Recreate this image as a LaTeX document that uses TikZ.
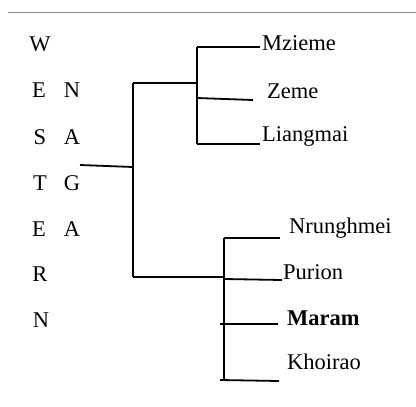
\documentclass[tikz,border=0pt]{standalone}
\usepackage{fontspec}
\setmainfont{Liberation Serif}
\begin{document}
\begin{tikzpicture}[
    x=1pt, y=-1pt,
    every node/.style={font=\fontsize{22.5}{27}\selectfont, inner sep=0pt, text height=0.68em, text depth=0pt},
    leaf/.style={anchor=west},
    branch/.style={line width=1.8pt},
]
    \useasboundingbox (0, 0) rectangle (416, 407);

    % rule across the top
    \coordinate (ruleL) at (8, 12);
    \coordinate (ruleR) at (416, 12);
    \draw[gray!90, line width=1pt] (ruleL) -- (ruleR);

    % WESTERN down the left, NAGA beside it
    \node (w) at (40, 48) {W};
    \node (e1) at (39, 94) {E};
    \node (s) at (40, 141) {S};
    \node (t) at (40, 187) {T};
    \node (e2) at (39, 233) {E};
    \node (r) at (40, 278) {R};
    \node (n1) at (41, 324) {N};

    \node (n2) at (72, 94) {N};
    \node (a1) at (72, 141) {A};
    \node (g) at (72, 187) {G};
    \node (a2) at (72, 233) {A};

    % leaves
    \node[leaf] (mzieme) at (262, 47) {Mzieme};
    \node[leaf] (zeme) at (267, 95) {Zeme};
    \node[leaf] (liangmai) at (262, 138) {Liangmai};
    \node[leaf] (nrunghmei) at (289, 230) {Nrunghmei};
    \node[leaf] (purion) at (283, 276) {Purion};
    \node[leaf] (maram) at (287, 322) {\bfseries Maram};
    \node[leaf] (khoirao) at (287, 366) {Khoirao};

    % joints of the tree
    \coordinate (root) at (80, 165);
    \coordinate (rootj) at (133, 167);
    \coordinate (maintop) at (133, 83);
    \coordinate (mainbot) at (133, 277);
    \coordinate (upj) at (197, 83);
    \coordinate (uptop) at (197, 47);
    \coordinate (upbot) at (197, 144);
    \coordinate (lowj) at (224, 277);
    \coordinate (lowtop) at (224, 238);
    \coordinate (lowbot) at (224, 380);

    % ends of the leaf lines
    \coordinate (mziemeE) at (260, 47);
    \coordinate (zemeS) at (197, 98);
    \coordinate (zemeE) at (253, 100);
    \coordinate (liangmaiE) at (260, 144);
    \coordinate (nrunghmeiE) at (280, 238);
    \coordinate (purionS) at (224, 279);
    \coordinate (purionE) at (282, 280);
    \coordinate (maramS) at (220, 324);
    \coordinate (maramE) at (278, 324);
    \coordinate (khoiraoS) at (220, 380);
    \coordinate (khoiraoE) at (279, 381);

    \draw[branch] (root) -- (rootj);
    \draw[branch] (maintop) -- (mainbot);
    \draw[branch] (maintop) -- (upj);
    \draw[branch] (mainbot) -- (lowj);

    \draw[branch] (uptop) -- (upbot);
    \draw[branch] (uptop) -- (mziemeE);
    \draw[branch] (zemeS) -- (zemeE);
    \draw[branch] (upbot) -- (liangmaiE);

    \draw[branch] (lowtop) -- (lowbot);
    \draw[branch] (lowtop) -- (nrunghmeiE);
    \draw[branch] (purionS) -- (purionE);
    \draw[branch] (maramS) -- (maramE);
    \draw[branch] (khoiraoS) -- (khoiraoE);

\end{tikzpicture}
\end{document}
